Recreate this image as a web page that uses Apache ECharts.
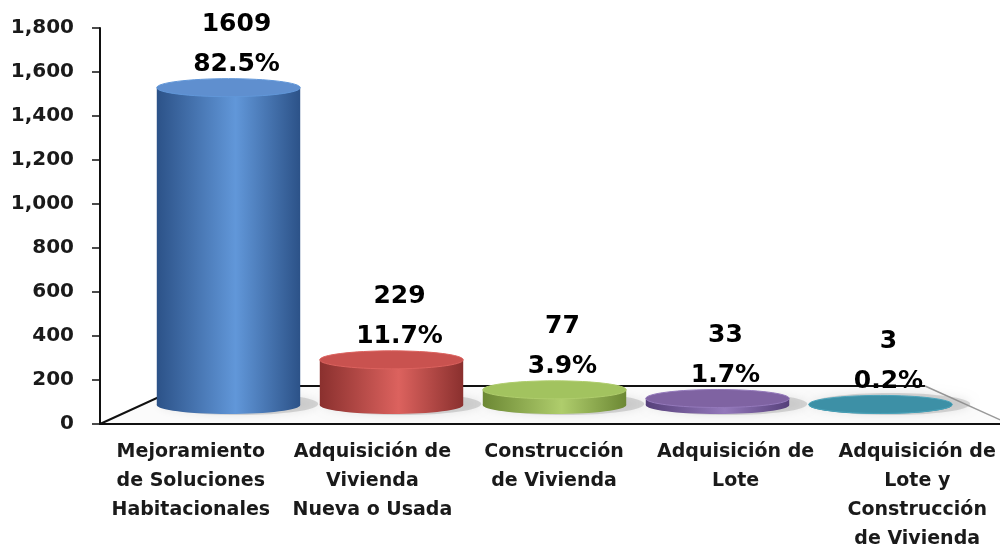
<!DOCTYPE html>
<html>
<head>
<meta charset="utf-8">
<script src="https://cdn.jsdelivr.net/npm/echarts@6/dist/echarts.min.js"></script>
<style>
  html, body { margin: 0; padding: 0; background: #fff; }
  #main { width: 1000px; height: 544px; }
</style>
</head>
<body>
<div id="main"></div>
<script>
// categorias del eje x
const categories = [
  'Mejoramiento\nde Soluciones\nHabitacionales',
  'Adquisición de\nVivienda\nNueva o Usada',
  'Construcción\nde Vivienda',
  'Adquisición de\nLote',
  'Adquisición de\nLote y\nConstrucción\nde Vivienda'
];
const counts = [1609, 229, 77, 33, 3];
const percents = ['82.5%', '11.7%', '3.9%', '1.7%', '0.2%'];
const yMax = 1800;
const yStep = 200;

// colores de cada cilindro: borde oscuro, centro claro, tapa
const barColors = [
  { dark: '#2c5288', light: '#6197d9', top: '#5f8fcf' },
  { dark: '#8a302e', light: '#dc625e', top: '#c9524f' },
  { dark: '#6c8834', light: '#afcd6c', top: '#a2c35f' },
  { dark: '#56407a', light: '#9479bb', top: '#7f63a2' },
  { dark: '#2f7d92', light: '#4aa3ba', top: '#3d90a6' }
];

const chart = echarts.init(document.getElementById('main'));

function renderCylinder(params, api) {
  const i = api.value(0);
  const top = api.coord([i, api.value(1)]);
  const base = api.coord([i, 0]);
  const w = api.size([1, 0])[0] * 0.88;
  const rx = w / 2;
  const ry = 9;
  const c = barColors[i];
  const grad = new echarts.graphic.LinearGradient(0, 0, 1, 0, [
    { offset: 0, color: c.dark },
    { offset: 0.55, color: c.light },
    { offset: 1, color: c.dark }
  ]);
  return {
    type: 'group',
    children: [
      { // sombra sobre el piso
        type: 'ellipse',
        shape: { cx: base[0] + 10, cy: base[1] - 1, rx: rx + 8, ry: ry + 2 },
        style: { fill: 'rgba(150,150,150,0.35)', shadowBlur: 10, shadowColor: 'rgba(0,0,0,0.25)' }
      },
      {
        type: 'rect',
        shape: { x: base[0] - rx, y: top[1], width: w, height: base[1] - top[1] },
        style: { fill: grad }
      },
      {
        type: 'ellipse',
        shape: { cx: base[0], cy: base[1], rx: rx, ry: ry },
        style: { fill: grad }
      },
      {
        type: 'ellipse',
        shape: { cx: top[0], cy: top[1], rx: rx, ry: ry },
        style: { fill: c.top, stroke: c.light, lineWidth: 1 }
      },
      {
        type: 'text',
        style: {
          text: counts[i] + '\n' + percents[i],
          x: top[0] + 8,
          y: top[1] - 3,
          align: 'center',
          verticalAlign: 'bottom',
          font: 'bold 25px "DejaVu Sans"',
          lineHeight: 40,
          fill: '#000'
        }
      }
    ]
  };
}

chart.setOption({
  backgroundColor: '#fff',
  animation: false,
  grid: [
    { left: 100, top: 28, width: 908, bottom: 120, outerBoundsMode: 'none' },   // ejes visibles
    { left: 147, top: 50, width: 815, bottom: 139, outerBoundsMode: 'none' }    // plano 3d de los cilindros
  ],
  graphic: [
    { // piso
      type: 'polygon', z: 0,
      shape: { points: [[100, 424], [183, 386], [925, 386], [1008, 424]] },
      style: { fill: '#fbfbfb' }
    },
    {
      type: 'polyline', z: 1,
      shape: { points: [[100, 424], [183, 386], [925, 386]] },
      style: { stroke: '#111', lineWidth: 2, fill: null }
    },
    {
      type: 'line', z: 1,
      shape: { x1: 925, y1: 386, x2: 1005, y2: 422 },
      style: { stroke: '#999', lineWidth: 1.5 }
    }
  ],
  xAxis: [
    {
      type: 'category', gridIndex: 0, data: categories,
      axisLine: { lineStyle: { color: '#111', width: 2 } },
      axisTick: { length: 8, lineStyle: { color: '#111', width: 2 } },
      axisLabel: {
        interval: 0, margin: 14, color: '#1a1a1a',
        fontFamily: 'DejaVu Sans', fontWeight: 'bold', fontSize: 19, lineHeight: 29
      }
    },
    { type: 'category', gridIndex: 1, data: categories, show: false }
  ],
  yAxis: [
    {
      type: 'value', gridIndex: 0, min: 0, max: yMax, interval: yStep,
      axisLine: { show: true, lineStyle: { color: '#111', width: 2 } },
      axisTick: { show: true, length: 8, lineStyle: { color: '#111', width: 1.5 } },
      splitLine: { show: false },
      axisLabel: {
        margin: 26, color: '#1a1a1a',
        fontFamily: 'DejaVu Sans', fontWeight: 'bold', fontSize: 20,
        formatter: v => v.toLocaleString('en-US')
      }
    },
    { type: 'value', gridIndex: 1, min: 0, max: yMax, show: false }
  ],
  series: [
    {
      type: 'custom',
      xAxisIndex: 1,
      yAxisIndex: 1,
      z: 3,
      renderItem: renderCylinder,
      data: counts.map((v, i) => [i, v])
    }
  ]
});
</script>
</body>
</html>
